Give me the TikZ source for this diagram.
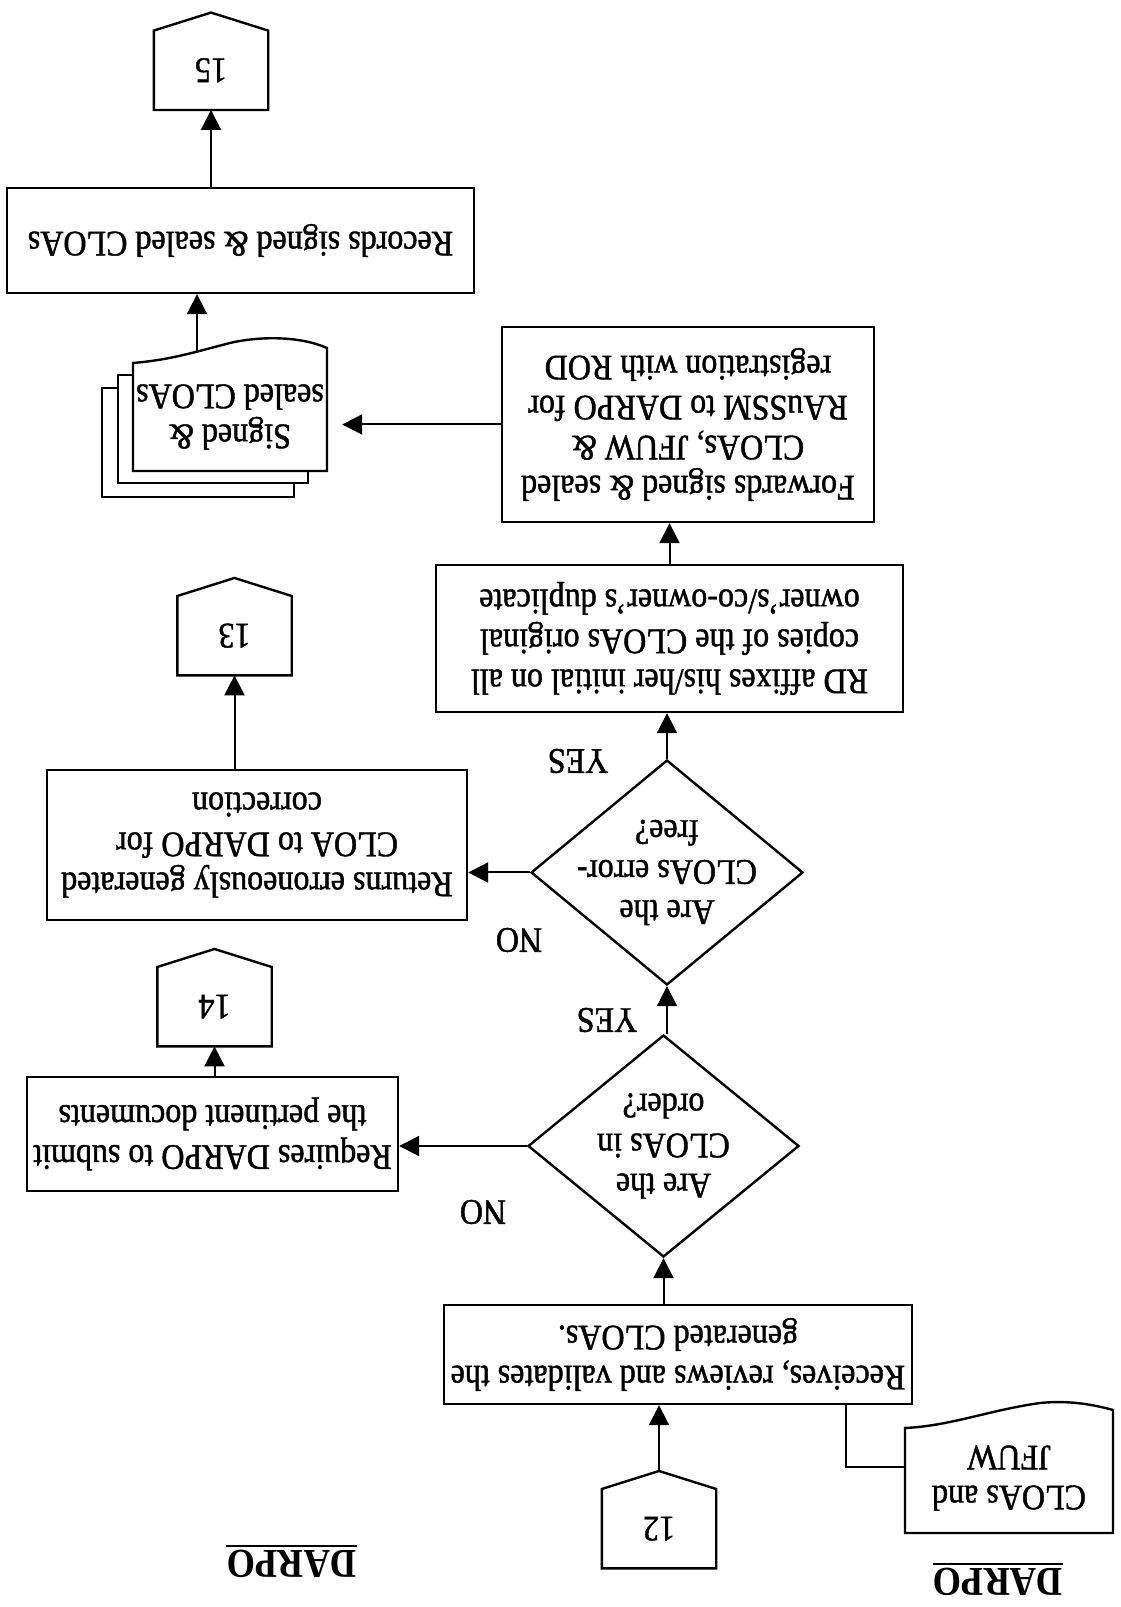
\documentclass[tikz,border=0pt]{standalone}
\usepackage{fontspec}
\setmainfont{Liberation Serif}[FakeStretch=0.89, UprightFeatures={FakeBold=1.2}]
\usetikzlibrary{arrows.meta,shapes.geometric}

\newcommand\mainsize{\fontsize{36}{40}\selectfont}
\newcommand\headsize{\fontsize{41}{44}\selectfont}

\tikzset{
  outline/.style={draw, line width=2.4pt, line join=miter},
  box/.style={outline, rectangle, align=center, inner sep=0pt, font=\mainsize},
  dia/.style={outline, diamond, inner sep=0pt},
  txt/.style={align=center, inner sep=0pt, font=\mainsize},
  opbody/.style={rectangle, minimum width=114pt, minimum height=79pt, inner sep=0pt, font=\mainsize},
  flow/.style={line width=2pt, -{Triangle[length=20pt,width=20pt]}},
  plain/.style={line width=2pt},
  head/.style={font=\headsize\bfseries, inner xsep=0pt, inner ysep=4pt, text depth=0pt},
}

% off-page connector: name, tip x, tip y, label
\newcommand\offpg[4]{%
  \coordinate (#1tip) at (#2,#3);
  \node[opbody,anchor=south] (#1) at (#2,#3+18) {#4};
  \draw[outline] (#1tip) -- (#1.south east) -- (#1.north east)
    -- (#1.north west) -- (#1.south west) -- cycle;
}

\begin{document}
\begin{tikzpicture}[x=1pt,y=1pt]
\useasboundingbox (0,0) rectangle (1120,1607);
\begin{scope}[rotate around={180:(560,803.5)}, transform shape]

% column headings
\node[head, anchor=south] (hd1) at (122,1564) {DARPO};
\draw[line width=2.6pt] (hd1.south west) -- (hd1.south east);
\node[head, anchor=south] (hd2) at (828.5,1546) {DARPO};
\draw[line width=2.6pt] (hd2.south west) -- (hd2.south east);

% incoming documents
\draw[outline] (215,1533) -- (215,1428)
  .. controls (170,1426) and (130,1410) .. (80,1403)
  .. controls (50,1400) and (25,1405) .. (7,1410) -- (7,1533) -- cycle;
\node[txt, minimum width=208pt] (jfuw) at (111,1478) {CLOAs and\\JFUW};

\offpg{p12}{461}{1471}{12}

% main column
\node[box, minimum width=468pt, minimum height=99pt] (rec) at (442,1354.5)
  {Receives, reviews and validates the\\generated CLOAs.};
\node[dia, minimum width=271pt, minimum height=222pt] (d1) at (456.5,1146) {};
\node[txt] (d1t) at (d1.center) {Are the\\CLOAs in\\order?};
\node[dia, minimum width=272pt, minimum height=225pt] (d2) at (453,872.5) {};
\node[txt] (d2t) at (d2.center) {Are the\\CLOAs error-\\free?};
\node[box, minimum width=467pt, minimum height=147pt] (rd) at (450.5,638.5)
  {RD affixes his/her initial on all\\copies of the CLOAs original\\owner’s/co-owner’s duplicate};
\node[box, minimum width=372pt, minimum height=195pt] (fwd) at (432,424.5)
  {Forwards signed \& sealed\\CLOAs, JFUW \&\\RAuSSM to DARPO for\\registration with ROD};

% side column
\node[box, minimum width=371pt, minimum height=114pt] (req) at (907.5,1134)
  {Requires DARPO to submit\\the pertinent documents};
\offpg{p14}{905.5}{949}{14}
\node[box, minimum width=420pt, minimum height=150pt] (ret) at (863,845)
  {Returns erroneously generated\\CLOA to DARPO for\\correction};
\offpg{p13}{885.5}{578}{13}

% stack of signed documents
\draw[outline, fill=white] (826,388) rectangle (1018,497);
\draw[outline, fill=white] (812,375) rectangle (1002,483);
\draw[outline, fill=white] (793,471) -- (987,471) -- (987,363)
  .. controls (950,360) and (925,352) .. (890,343)
  .. controls (860,336) and (820,336) .. (793,348) -- cycle;
\node[txt, minimum width=194pt] (sgn) at (890,417) {Signed \&\\sealed CLOAs};
\coordinate (sgnout) at (923,353);

\node[box, minimum width=467pt, minimum height=105pt] (recd) at (879.5,240.5)
  {Records signed \& sealed CLOAs};
\offpg{p15}{909}{12.6}{15}

% branch labels
\node[txt] (no1) at (637,1212) {NO};
\node[txt] (yes1) at (513,1020) {YES};
\node[txt] (no2) at (601,940) {NO};
\node[txt] (yes2) at (542,761) {YES};

% connectors
\coordinate (jbend) at (274,1467);
\draw[plain] (jfuw.east |- jbend) -- (jbend) -- (jbend |- rec.north);
\draw[flow] (p12tip) -- (p12tip |- rec.north);
\draw[flow] (d1.north |- rec.south) -- (d1.north);
\draw[flow] (d2.north |- d1.south) -- (d2.north);
\draw[flow] (d1.east) -- (d1.east -| req.west);
\draw[flow] (p14.north |- req.south) -- (p14.north);
\draw[flow] (d2.east) -- (d2.east -| ret.west);
\draw[flow] (p13.north |- ret.south) -- (p13.north);
\draw[flow] (d2.south) -- (d2.south |- rd.north);
\draw[flow] (rd.south) -- (rd.south |- fwd.north);
\draw[flow, shorten >=15pt] (fwd.east) -- (fwd.east -| sgn.west);
\draw[flow] (sgnout) -- (sgnout |- recd.north);
\draw[flow] (p15.north |- recd.south) -- (p15.north);

\end{scope}
\end{tikzpicture}
\end{document}
